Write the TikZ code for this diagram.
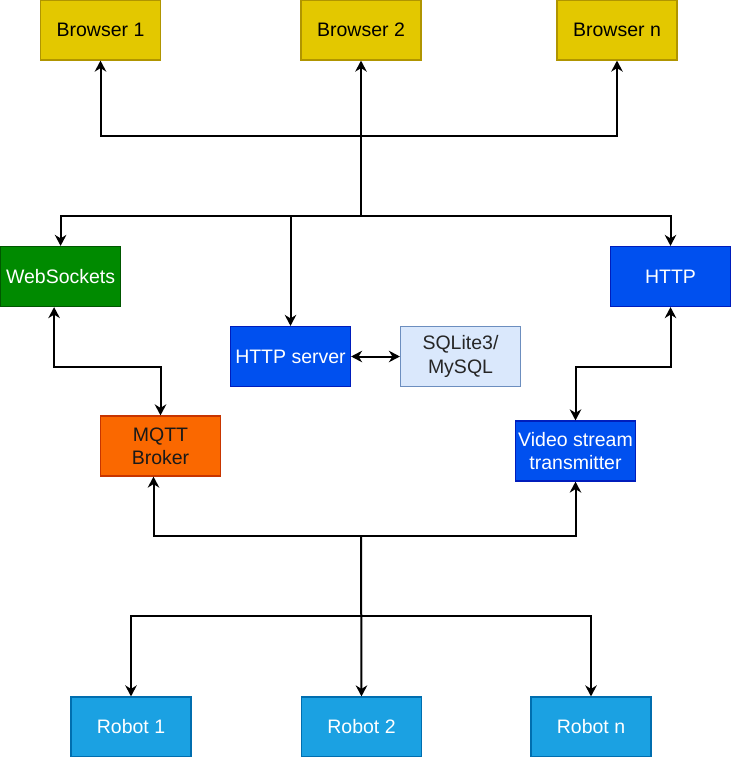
\documentclass[tikz,border=0pt]{standalone}
\usepackage{fontspec}
\setmainfont{Liberation Sans}
\usetikzlibrary{arrows.meta}
\definecolor{ybrowser}{HTML}{E3C800}
\definecolor{ybrowserd}{HTML}{B09500}
\definecolor{gws}{HTML}{008A00}
\definecolor{gwsd}{HTML}{005700}
\definecolor{bblue}{HTML}{0050EF}
\definecolor{bblued}{HTML}{001DBC}
\definecolor{lsql}{HTML}{DAE8FC}
\definecolor{lsqld}{HTML}{6C8EBF}
\definecolor{omqtt}{HTML}{FA6800}
\definecolor{omqttd}{HTML}{C73500}
\definecolor{crobot}{HTML}{1BA1E2}
\definecolor{crobotd}{HTML}{006EAF}
\tikzset{
  box/.style={rectangle, minimum width=120pt, minimum height=60pt, inner sep=0pt,
    line width=1.2pt, align=center, font=\fontsize{19.5}{23.4}\selectfont},
  browserbox/.style={box, fill=ybrowser, draw=ybrowserd, text=black},
  wsbox/.style={box, fill=gws, draw=gwsd, text=white},
  bluebox/.style={box, fill=bblue, draw=bblued, text=white},
  sqlbox/.style={box, fill=lsql, draw=lsqld, text=black!85},
  mqttbox/.style={box, fill=omqtt, draw=omqttd, text=black!90},
  robotbox/.style={box, fill=crobot, draw=crobotd, text=white},
  tipshape/.style={Stealth[length=11pt,width=11.5pt,inset=3.5pt]},
  conn/.style={line width=2pt, draw=black, -{Stealth[length=11pt,width=11.5pt,inset=3.5pt]}},
  conn2/.style={line width=2pt, draw=black, {Stealth[length=11pt,width=11.5pt,inset=3.5pt]}-{Stealth[length=11pt,width=11.5pt,inset=3.5pt]}}
}
\begin{document}
\begin{tikzpicture}[x=1pt,y=-1pt]
\useasboundingbox (0,0) rectangle (731,757);
% nodes
\node[browserbox] (b1) at (100.5,30) {Browser 1};
\node[browserbox] (b2) at (361,30) {Browser 2};
\node[browserbox] (bn) at (617,30) {Browser n};
\node[wsbox] (ws) at (60.6,276.5) {WebSockets};
\node[bluebox] (http) at (670.5,276.5) {HTTP};
\node[bluebox] (hs) at (290.5,356.5) {HTTP server};
\node[sqlbox] (sql) at (460.5,356.5) {SQLite3/\\MySQL};
\node[mqttbox] (mqtt) at (160.5,446) {MQTT\\Broker};
\node[bluebox] (vid) at (575.5,451) {Video stream\\transmitter};
\node[robotbox] (r1) at (131,727) {Robot 1};
\node[robotbox] (r2) at (361.5,727) {Robot 2};
\node[robotbox] (rn) at (591,727) {Robot n};
% hubs
\coordinate (top) at (361,216);
\coordinate (tb) at (361,136);
\coordinate (bh) at (361,536);
\coordinate (rh) at (361,616);
% top connectors
\draw[conn] (top) -- (b2.south);
\draw[conn] (tb) -| (b1.south);
\draw[conn] (tb) -| (bn.south);
\draw[conn] (top) -| (ws.north);
\draw[conn] (top) -| (http.north);
\draw[conn] (hs.north |- top) -- (hs.north);
% middle
\draw[conn2] (hs.east) -- (sql.west);
\draw[conn2] ([xshift=-6.5pt]ws.south) -- ++(0,60) -| (mqtt.north);
\draw[conn2] (http.south) -- ++(0,60) -| (vid.north);
% bottom
\draw[conn] (bh) -| ([xshift=-7pt]mqtt.south);
\draw[conn] (bh) -| (vid.south);
\draw[conn] (bh) -- (r2.north);
\draw[conn] (rh) -| (r1.north);
\draw[conn] (rh) -| (rn.north);
\end{tikzpicture}
\end{document}
